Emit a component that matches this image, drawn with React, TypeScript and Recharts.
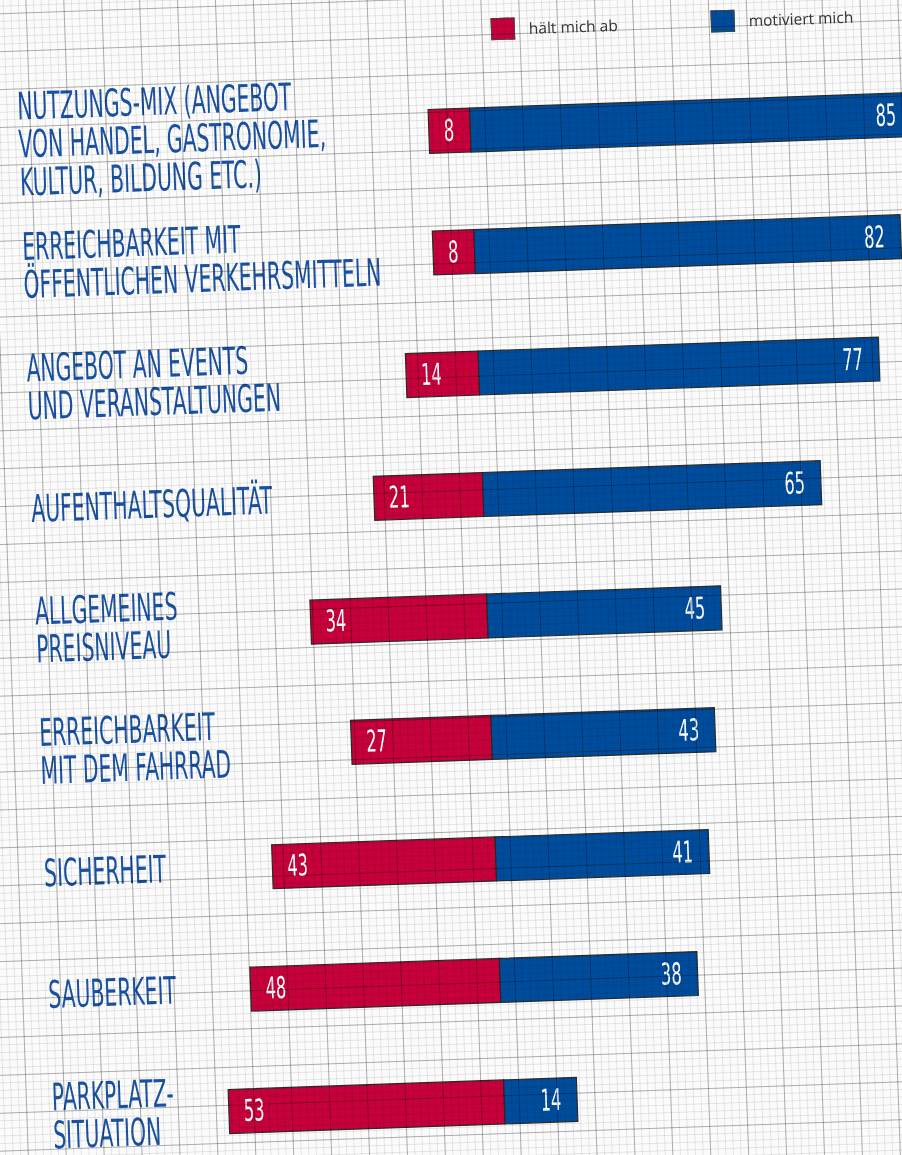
import { BarChart, Bar, XAxis, YAxis, Legend, LabelList } from 'recharts';

const CATEGORIES = [
  'NUTZUNGS-MIX (ANGEBOT\nVON HANDEL, GASTRONOMIE,\nKULTUR, BILDUNG ETC.)',
  'ERREICHBARKEIT MIT\nÖFFENTLICHEN VERKEHRSMITTELN',
  'ANGEBOT AN EVENTS\nUND VERANSTALTUNGEN',
  'AUFENTHALTSQUALITÄT',
  'ALLGEMEINES\nPREISNIVEAU',
  'ERREICHBARKEIT\nMIT DEM FAHRRAD',
  'SICHERHEIT',
  'SAUBERKEIT',
  'PARKPLATZ-\nSITUATION',
];
const HAELT_MICH_AB = [8, 8, 14, 21, 34, 27, 43, 48, 53];
const MOTIVIERT_MICH = [85, 82, 77, 65, 45, 43, 41, 38, 14];

const COLORS = {
  haelt: '#c6003a',
  motiviert: '#004c9c',
  label: '#1a52a3',
  outline: '#2a2a2a',
};

const HAND_FONT = "'Liberation Sans Narrow', 'DejaVu Sans Condensed', 'Liberation Sans', sans-serif";

const chartData = CATEGORIES.map((name, i) => ({
  name,
  haelt: -HAELT_MICH_AB[i],
  motiviert: MOTIVIERT_MICH[i],
}));

function CategoryTick({ y, payload }: any) {
  const lines = String(payload.value).split('\n');
  return (
    <g>
      {lines.map((line, i) => (
        <text
          key={i}
          transform={`translate(34, ${y + (i - (lines.length - 1) / 2) * 38 + 12}) scale(0.595, 1)`}
          fontSize={38}
          fontFamily={HAND_FONT}
          fill={COLORS.label}
        >
          {line}
        </text>
      ))}
    </g>
  );
}

function HaeltLabel({ x, y, width, height, value }: any) {
  const left = Math.min(x, x + width);
  return (
    <text
      transform={`translate(${left + 15}, ${y + height / 2 + 10}) scale(0.6, 1)`}
      fontSize={30}
      fontFamily={HAND_FONT}
      fill="#fff"
    >
      {Math.abs(value)}
    </text>
  );
}

function MotiviertLabel({ x, y, width, height, value }: any) {
  const right = Math.max(x, x + width);
  return (
    <text
      transform={`translate(${right - 16}, ${y + height / 2 + 10}) scale(0.6, 1)`}
      fontSize={30}
      fontFamily={HAND_FONT}
      fill="#fff"
      textAnchor="end"
    >
      {value}
    </text>
  );
}

function renderLegend({ payload }: any) {
  return (
    <div style={{ display: 'flex' }}>
      {payload.map((entry: any) => (
        <div key={entry.value} style={{ width: 220, display: 'flex', alignItems: 'center' }}>
          <span
            style={{
              width: 24,
              height: 22,
              background: entry.color,
              border: '1.5px solid #444',
              boxSizing: 'border-box',
              marginRight: 14,
              display: 'inline-block',
            }}
          />
          <span style={{ fontFamily: "'Open Sans', sans-serif", fontSize: 15.5, color: '#333' }}>
            {entry.value}
          </span>
        </div>
      ))}
    </div>
  );
}

const gridBg = {
  backgroundImage: [
    'linear-gradient(to right, rgba(0,0,0,0.24) 1px, transparent 1px)',
    'linear-gradient(to bottom, rgba(0,0,0,0.24) 1px, transparent 1px)',
    'linear-gradient(to right, rgba(0,0,0,0.09) 1px, transparent 1px)',
    'linear-gradient(to bottom, rgba(0,0,0,0.09) 1px, transparent 1px)',
  ].join(','),
  backgroundSize: '37.9px 37.9px, 37.9px 37.9px, 7.58px 7.58px, 7.58px 7.58px',
  backgroundPosition: '30px 20px, 30px 20px, 30px 20px, 30px 20px',
};

export default function App() {
  return (
    <div style={{ position: 'absolute', left: 0, top: 0, width: 902, height: 1155, overflow: 'hidden', background: '#fbfbfb' }}>
      <div
        style={{
          position: 'absolute',
          left: -60,
          top: -60,
          width: 1080,
          height: 1300,
          transform: 'rotate(-2deg)',
          transformOrigin: '511px 637px',
          background: '#fbfbfb',
        }}
      >
        <div style={{ position: 'absolute', left: 60, top: 60 }}>
          <BarChart
            width={1000}
            height={1180}
            data={chartData}
            layout="vertical"
            stackOffset="sign"
            margin={{ top: 70, right: 46, left: 0, bottom: 16 }}
          >
            <XAxis type="number" domain={[-60, 90]} hide />
            <YAxis
              type="category"
              dataKey="name"
              width={174}
              axisLine={false}
              tickLine={false}
              tick={<CategoryTick />}
              interval={0}
            />
            <Legend
              content={renderLegend}
              verticalAlign="middle"
              align="center"
              layout="horizontal"
              wrapperStyle={{ top: 20, left: 510, width: 460, height: 26 }}
            />
            <Bar
              dataKey="haelt"
              name="hält mich ab"
              stackId="a"
              fill={COLORS.haelt}
              stroke={COLORS.outline}
              strokeWidth={1.2}
              barSize={44}
              isAnimationActive={false}
            >
              <LabelList dataKey="haelt" content={<HaeltLabel />} />
            </Bar>
            <Bar
              dataKey="motiviert"
              name="motiviert mich"
              stackId="a"
              fill={COLORS.motiviert}
              stroke={COLORS.outline}
              strokeWidth={1.2}
              barSize={44}
              isAnimationActive={false}
            >
              <LabelList dataKey="motiviert" content={<MotiviertLabel />} />
            </Bar>
          </BarChart>
        </div>
        <div
          style={{
            position: 'absolute',
            inset: 0,
            pointerEvents: 'none',
            mixBlendMode: 'multiply',
            ...gridBg,
          }}
        />
      </div>
    </div>
  );
}
